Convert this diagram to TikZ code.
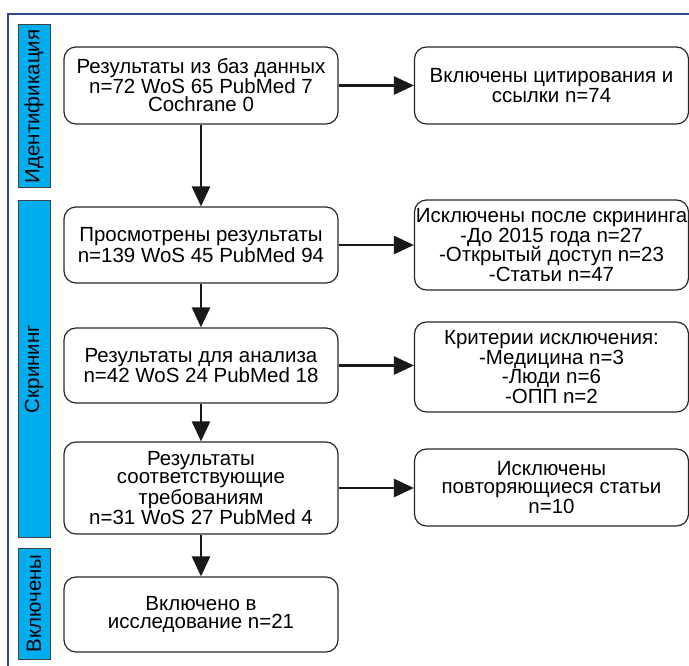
\documentclass[tikz,border=0pt]{standalone}
\usepackage{fontspec}
\setmainfont{Liberation Sans}
\usetikzlibrary{positioning, arrows.meta}

\definecolor{framecol}{HTML}{2B4B9A}
\definecolor{barcol}{HTML}{00AEEF}

\begin{document}
\begin{tikzpicture}[x=1pt, y=-1pt,
		every node/.style={font=\fontsize{20.5}{18}\selectfont},
		stepbox/.style={draw=black!85, line width=1.2pt, rounded corners=12pt, align=center, inner sep=0pt, minimum width=274pt},
		listbox/.style={stepbox, font=\fontsize{20.5}{19.5}\selectfont},
		sidebar/.style={draw=black!75, line width=1pt, fill=barcol, inner sep=0pt, minimum height=32pt, rotate=90, anchor=center},
		flow/.style={-{Triangle[length=20pt, width=18pt]}, line width=2.6pt, black!90}]

		\useasboundingbox (0,0) rectangle (689,666);

		% Frame
		\draw[framecol, line width=2.2pt] (8,700) -- (8,14) -- (700,14);

		% Side bars
		\node[sidebar, minimum width=163pt] (bIdent) at (34,106.5) {Идентификация};
		\node[sidebar, minimum width=336pt] (bScreen) at (34,369) {Скрининг};
		\node[sidebar, minimum width=111pt] (bIncl) at (34,603.5) {Включены};

		% Main column
		\node[stepbox, minimum height=77pt] (r1) at (201,85.5) {Результаты из баз данных\\n=72 WoS 65 PubMed 7\\Cochrane 0};
		\node[stepbox, minimum height=76pt] (r2) at (201,245) {Просмотрены результаты\\n=139 WoS 45 PubMed 94};
		\node[stepbox, minimum height=75pt] (r3) at (201,365.5) {Результаты для анализа\\n=42 WoS 24 PubMed 18};
		\node[stepbox, minimum height=92pt] (r4) at (201,488) {Результаты\\соответствующие\\требованиям\\n=31 WoS 27 PubMed 4};
		\node[stepbox, minimum height=75pt] (r5) at (201,614.5) {Включено в\\исследование n=21};

		% Side column
		\node[stepbox, minimum height=77pt] (e1) at (551.5,85.5) {Включены цитирования и\\ссылки n=74};
		\node[listbox, minimum height=90pt] (e2) at (551.5,245) {Исключены после скрининга\\-До 2015 года n=27\\-Открытый доступ n=23\\-Статьи n=47};
		\node[listbox, minimum height=90pt] (e3) at (551.5,367) {Критерии исключения:\\-Медицина n=3\\-Люди n=6\\-ОПП n=2};
		\node[stepbox, minimum height=77pt] (e4) at (551.5,487.5) {Исключены\\повторяющиеся статьи\\n=10};

		% Arrows
		\draw[flow] (r1) -- (r2);
		\draw[flow] (r2) -- (r3);
		\draw[flow] (r3) -- (r4);
		\draw[flow] (r4) -- (r5);
		\draw[flow] (r1) -- (e1);
		\draw[flow] (r2) -- (e2);
		\draw[flow] (r3.east) -- (r3.east -| e3.west);
		\draw[flow] (r4.east) -- (r4.east -| e4.west);

	\end{tikzpicture}
\end{document}
